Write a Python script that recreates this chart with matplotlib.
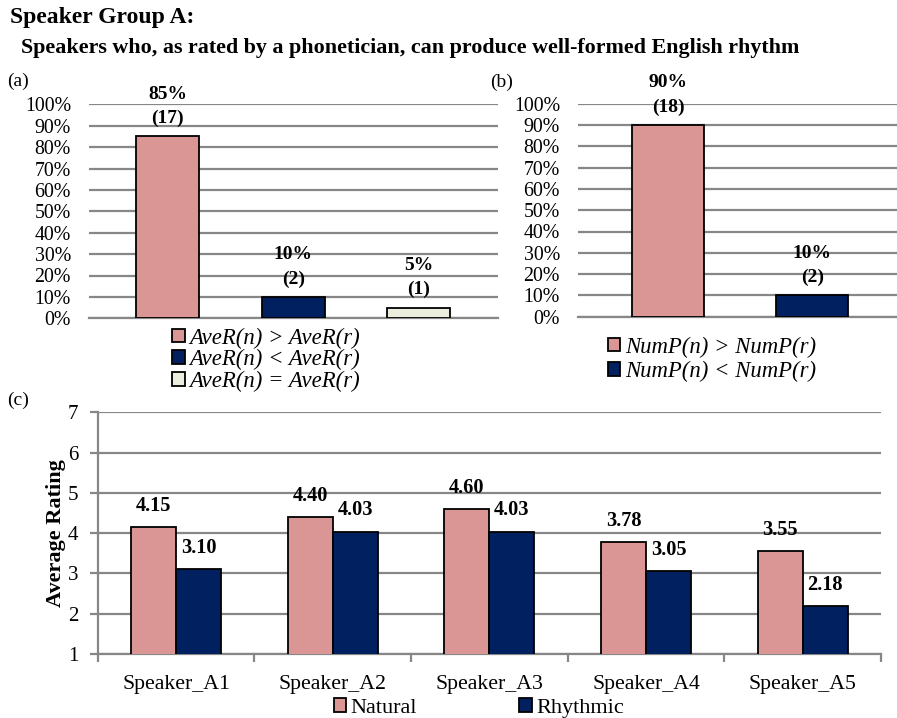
import matplotlib
matplotlib.use("Agg")
import matplotlib.pyplot as plt
import numpy as np

plt.rcParams['font.family'] = ['Liberation Serif', 'DejaVu Serif']

# ---- data ----
a_labels = ["AveR(n) > AveR(r)", "AveR(n) < AveR(r)", "AveR(n) = AveR(r)"]
a_values = [0.85, 0.10, 0.05]
a_counts = [17, 2, 1]

b_labels = ["NumP(n) > NumP(r)", "NumP(n) < NumP(r)"]
b_values = [0.90, 0.10]
b_counts = [18, 2]

speakers = ["Speaker_A1", "Speaker_A2", "Speaker_A3", "Speaker_A4", "Speaker_A5"]
natural = [4.15, 4.40, 4.60, 3.78, 3.55]
rhythmic = [3.10, 4.03, 4.03, 3.05, 2.18]

PINK = "#D99694"
NAVY = "#002060"
CREAM = "#EBEEDD"
GRID = "#878787"
a_colors = [PINK, NAVY, CREAM]
b_colors = [PINK, NAVY]

W, H = 897, 718
fig = plt.figure(figsize=(W / 100, H / 100), dpi=100)

def px_axes(left, right, top, bottom):
    return fig.add_axes([left / W, (H - bottom) / H, (right - left) / W, (bottom - top) / H])

fig.text(10 / W, 1 - 18 / H, "Speaker Group A:", fontsize=17, fontweight='bold', va='center', ha='left')
fig.text(21 / W, 1 - 48 / H, "Speakers who, as rated by a phonetician, can produce well-formed English rhythm",
         fontsize=15.8, fontweight='bold', va='center', ha='left')

def pct_panel(ax, values, counts, colors, xlim):
    x = np.arange(len(values))
    bars = ax.bar(x, values, width=0.5, color=colors, edgecolor='black', linewidth=1.3, zorder=3)
    ax.set_ylim(0, 1)
    ax.set_xlim(*xlim)
    ticks = np.arange(0, 1.01, 0.1)
    ax.set_yticks(ticks)
    ax.set_yticklabels([f"{int(round(v * 100))}%" for v in ticks], fontsize=14.3)
    ax.yaxis.grid(True, color=GRID, linewidth=1.6, zorder=0)
    ax.set_xticks([])
    for s in ['top', 'right', 'left']:
        ax.spines[s].set_visible(False)
    ax.spines['bottom'].set_color(GRID)
    ax.spines['bottom'].set_linewidth(1.6)
    ax.tick_params(axis='y', length=0, pad=13)
    for xi, v, c in zip(x, values, counts):
        ax.annotate(f"({c})", (xi, v), xytext=(0, 13), textcoords='offset points',
                    ha='center', va='center', fontsize=14, fontweight='bold')
        ax.annotate(f"{int(round(v * 100))}%", (xi, v), xytext=(0, 30.5), textcoords='offset points',
                    ha='center', va='center', fontsize=14, fontweight='bold')
    return bars

axa = px_axes(89, 498, 104.3, 318.3)
bars_a = pct_panel(axa, a_values, a_counts, a_colors, (-0.625, 2.63))
fig.legend(bars_a, a_labels, loc='upper center', bbox_to_anchor=(266 / W, 1 - 316 / H),
           frameon=False, prop={'style': 'italic', 'size': 16.4}, handlelength=0.55, handleheight=0.55,
           handletextpad=0.2, labelspacing=0.02, borderpad=0)
fig.text(7 / W, 1 - 81 / H, "(a)", fontsize=14, va='center', ha='left')

axb = px_axes(578, 897, 103.7, 316.7)
bars_b = pct_panel(axb, b_values, b_counts, b_colors, (-0.624, 1.587))
fig.legend(bars_b, b_labels, loc='upper center', bbox_to_anchor=(712 / W, 1 - 325 / H),
           frameon=False, prop={'style': 'italic', 'size': 16.4}, handlelength=0.55, handleheight=0.55,
           handletextpad=0.2, labelspacing=0.15, borderpad=0)
fig.text(490 / W, 1 - 82 / H, "(b)", fontsize=14, va='center', ha='left')

# ---- panel (c) ----
axc = px_axes(97.7, 881, 412.3, 654)
x = np.arange(len(speakers))
bw = 0.287
bn = axc.bar(x - bw / 2, natural, width=bw, color=PINK, edgecolor='black', linewidth=1.3, zorder=3, label='Natural')
br = axc.bar(x + bw / 2, rhythmic, width=bw, color=NAVY, edgecolor='black', linewidth=1.3, zorder=3, label='Rhythmic')
axc.set_ylim(1, 7)
axc.set_xlim(-0.5, len(speakers) - 0.5)
axc.set_yticks(range(1, 8))
axc.tick_params(axis='y', labelsize=15, length=6, color=GRID, width=1.6, pad=8)
axc.yaxis.grid(True, color=GRID, linewidth=1.6, zorder=0)
axc.set_xticks(x)
axc.set_xticklabels(speakers, fontsize=15.7)
axc.set_xticks(np.arange(-0.5, len(speakers)), minor=True)
axc.tick_params(axis='x', which='major', length=0, pad=15)
axc.tick_params(axis='x', which='minor', length=6, color=GRID, width=1.6)
for s in ['top', 'right']:
    axc.spines[s].set_visible(False)
for s in ['left', 'bottom']:
    axc.spines[s].set_color(GRID)
    axc.spines[s].set_linewidth(1.6)
axc.set_ylabel("Average Rating", fontsize=16, fontweight='bold', labelpad=1.5)
for xi, v in zip(x, natural):
    axc.annotate(f"{v:.2f}", (xi - bw / 2, v), xytext=(0, 15), textcoords='offset points',
                 ha='center', va='center', fontsize=14.7, fontweight='bold')
for xi, v in zip(x, rhythmic):
    axc.annotate(f"{v:.2f}", (xi + bw / 2, v), xytext=(0, 15.5), textcoords='offset points',
                 ha='center', va='center', fontsize=14.7, fontweight='bold')
fig.legend([bn, br], ['Natural', 'Rhythmic'], loc='center', bbox_to_anchor=(479 / W, 1 - 708 / H),
           ncol=2, frameon=False, prop={'size': 16}, handlelength=0.55, handleheight=0.55,
           handletextpad=0.2, columnspacing=4.6, borderpad=0)
fig.text(7 / W, 1 - 400 / H, "(c)", fontsize=14, va='center', ha='left')

fig.savefig("out.png", dpi=100)
